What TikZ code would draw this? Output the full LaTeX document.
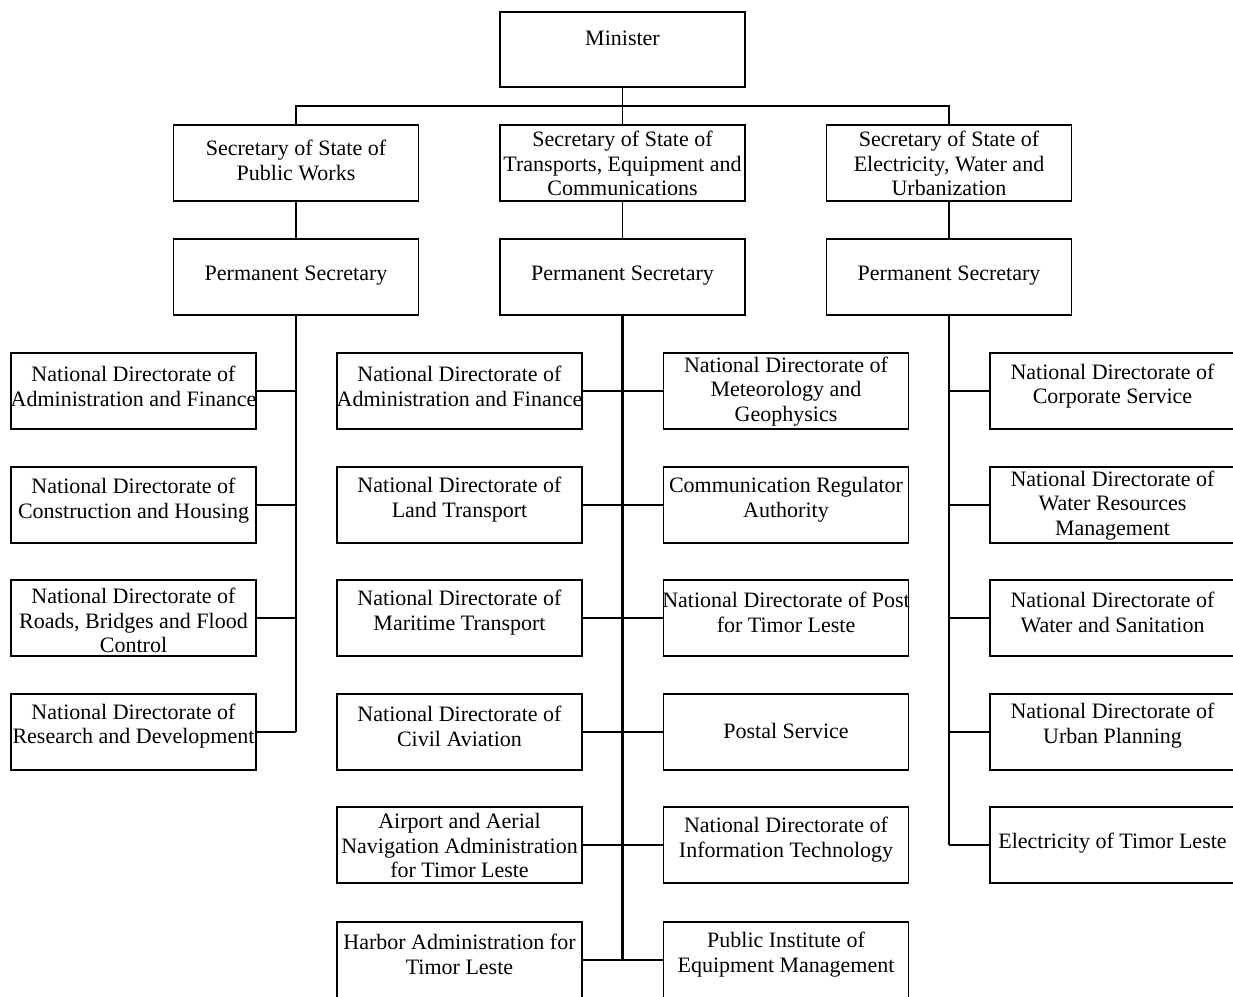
\documentclass[tikz,border=0pt]{standalone}
\usepackage{fontspec}
\setmainfont{Liberation Serif}
\usetikzlibrary{calc}
\begin{document}
\begin{tikzpicture}[x=1pt,y=-1pt,
  box/.style={draw,line width=1.5pt,minimum width=245pt,minimum height=76pt,inner sep=0pt,outer sep=0pt},
  txt/.style={align=center,inner sep=0pt,font=\fontsize{22}{24.8}\selectfont},
  conn/.style={line width=1.6pt},
  trunk/.style={line width=2.4pt}]
\useasboundingbox (0,0) rectangle (1233,996);
\clip (0,0) rectangle (1233,996);
\fill[white] (0,0) rectangle (1233,996);
\newcommand\bx[5]{\node[box] (#1) at (#2,#3) {};
  \node[txt] (#1t) at ([yshift=#4pt]#1.center) {#5};}
% top
\node[box,minimum height=75pt] (min) at (622.5,49.5) {};
\node[txt] (mint) at ([yshift=11pt]min.center) {Minister};
\bx{sA}{296}{163}{2.5}{Secretary of State of\\Public Works}
\bx{sB}{622.5}{163}{-0.5}{Secretary of State of\\Transports, Equipment and\\Communications}
\bx{sC}{949}{163}{-0.5}{Secretary of State of\\Electricity, Water and\\Urbanization}
\bx{pA}{296}{277}{1}{Permanent Secretary}
\bx{pB}{622.5}{277}{1}{Permanent Secretary}
\bx{pC}{949}{277}{1}{Permanent Secretary}
% left column
\bx{L1}{133.5}{391}{5}{National Directorate of\\Administration and Finance}
\bx{L2}{133.5}{505}{4}{National Directorate of\\Construction and Housing}
\bx{L3}{133.5}{618}{-2.5}{National Directorate of\\Roads, Bridges and Flood\\Control}
\bx{L4}{133.5}{732}{6}{National Directorate of\\Research and Development}
% middle left
\bx{M1}{459.5}{391}{5}{National Directorate of\\Administration and Finance}
\bx{M2}{459.5}{505}{5.5}{National Directorate of\\Land Transport}
\bx{M3}{459.5}{618}{5.5}{National Directorate of\\Maritime Transport}
\bx{M4}{459.5}{732}{6}{National Directorate of\\Civil Aviation}
\bx{M5}{459.5}{845}{-0.5}{Airport and Aerial\\Navigation Administration\\for Timor Leste}
\bx{M6}{459.5}{960}{5.5}{Harbor Administration for\\Timor Leste}
% middle right
\bx{N1}{786}{391}{-0.5}{National Directorate of\\Meteorology and\\Geophysics}
\bx{N2}{786}{505}{5.5}{Communication Regulator\\Authority}
\bx{N3}{786}{618}{5.5}{National Directorate of Post\\for Timor Leste}
\bx{N4}{786}{732}{1}{Postal Service}
\bx{N5}{786}{845}{5}{National Directorate of\\Information Technology}
\bx{N6}{786}{960}{5.5}{Public Institute of\\Equipment Management}
% right column
\bx{R1}{1112.5}{391}{5}{National Directorate of\\Corporate Service}
\bx{R2}{1112.5}{505}{-0.5}{National Directorate of\\Water Resources\\Management}
\bx{R3}{1112.5}{618}{5.5}{National Directorate of\\Water and Sanitation}
\bx{R4}{1112.5}{732}{6}{National Directorate of\\Urban Planning}
\bx{R5}{1112.5}{845}{1.5}{Electricity of Timor Leste}
% connectors top
\draw[conn] (min.south) -- (sB.north);
\coordinate (bus) at ($(min.south)!0.5!(sB.north)$);
\draw[conn] (sA.north) |- (bus) -| (sC.north);
\draw[conn] (sA.south) -- (pA.north);
\draw[conn] (sB.south) -- (pB.north);
\draw[conn] (sC.south) -- (pC.north);
% left trunk
\draw[trunk] (pA.south) -- (pA.south |- L4.east);
\foreach \n in {L1,L2,L3,L4}{\draw[conn] (\n.east) -- (\n.east -| pA.south);}
% middle trunk
\draw[trunk] (pB.south) -- (pB.south |- M6.east);
\foreach \n/\m in {M1/N1,M2/N2,M3/N3,M4/N4,M5/N5,M6/N6}{\draw[conn] (\n.east) -- (\m.west);}
% right trunk
\draw[trunk] (pC.south) -- (pC.south |- R5.west);
\foreach \n in {R1,R2,R3,R4,R5}{\draw[conn] (\n.west) -- (\n.west -| pC.south);}
\end{tikzpicture}
\end{document}
